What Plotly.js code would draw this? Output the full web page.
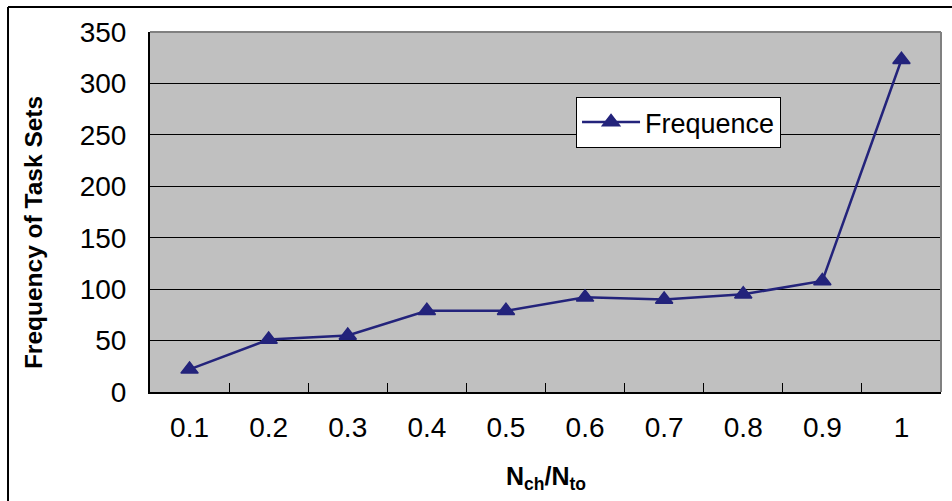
<!DOCTYPE html>
<html>
<head>
<meta charset="utf-8">
<script src="https://cdn.plot.ly/plotly-3.0.1.min.js"></script>
<style>
html,body{margin:0;padding:0;background:#fff;}
#chart{width:952px;height:501px;}
</style>
</head>
<body>
<div id="chart"></div>
<script>
var categories = ["0.1","0.2","0.3","0.4","0.5","0.6","0.7","0.8","0.9","1"];
var frequence = [22, 51, 55, 79, 79, 92, 90, 95, 108, 323];
var yTicks = [0, 50, 100, 150, 200, 250, 300, 350];
var seriesName = "Frequence";
var yTitle = "Frequency of Task Sets";
var xTitle = "<b>N<sub>ch</sub>/N<sub>to</sub></b>";

var font = "Arial, 'Liberation Sans', sans-serif";
var navy = "#23237B";

var trace = {
  x: categories,
  y: frequence,
  type: "scatter",
  mode: "lines+markers",
  name: seriesName,
  line: {color: navy, width: 2.5},
  marker: {symbol: "triangle-up", size: 15, color: navy, line: {color: navy, width: 1.5}}
};

var layout = {
  width: 952, height: 501,
  margin: {l: 150, r: 11, t: 32, b: 109, pad: 0},
  paper_bgcolor: "#ffffff",
  plot_bgcolor: "#C0C0C0",
  font: {family: font, color: "#000", size: 24},
  showlegend: true,
  legend: {
    x: 0.5386, y: 0.8194, xanchor: "left", yanchor: "top",
    bgcolor: "#ffffff", bordercolor: "#000", borderwidth: 1,
    font: {family: font, size: 27, color: "#000"},
    itemwidth: 58
  },
  xaxis: {
    type: "category",
    range: [-0.5, 9.5],
    tickson: "boundaries",
    ticks: "inside", ticklen: 9, tickwidth: 1, tickcolor: "#000",
    showline: true, linecolor: "#000", linewidth: 2,
    showgrid: false, zeroline: false,
    tickfont: {family: font, size: 28, color: "#000"},
    ticklabelstandoff: 9,
    fixedrange: true
  },
  yaxis: {
    range: [0, 350],
    tickvals: yTicks,
    ticktext: yTicks.map(String),
    ticks: "", showline: true, linecolor: "#000", linewidth: 2,
    showgrid: true, gridcolor: "#000", gridwidth: 1,
    zeroline: false,
    tickfont: {family: font, size: 28, color: "#000"},
    ticklabelstandoff: 16,
    fixedrange: true
  },
  shapes: [
    {type: "line", xref: "paper", yref: "paper", x0: 0, x1: 1, y0: 1, y1: 1, line: {color: "#808080", width: 2}},
    {type: "line", xref: "paper", yref: "paper", x0: 1, x1: 1, y0: 0, y1: 1, line: {color: "#808080", width: 2}},
    {type: "line", xref: "paper", yref: "paper", x0: -0.1795, x1: -0.1795, y0: 1.0694, y1: -0.32, line: {color: "#000", width: 2}},
    {type: "line", xref: "paper", yref: "paper", x0: -0.1795, x1: 1.02, y0: 1.0694, y1: 1.0694, line: {color: "#000", width: 2}}
  ],
  annotations: [
    {text: "<b>" + yTitle + "</b>", xref: "paper", yref: "paper", x: -0.148, y: 0.444,
     xanchor: "center", yanchor: "middle",
     textangle: -90, showarrow: false, font: {family: font, size: 24.5, color: "#000"}},
    {text: xTitle, xref: "paper", yref: "paper", x: 0.5, y: -0.239,
     xanchor: "center", yanchor: "middle",
     showarrow: false, font: {family: font, size: 25, color: "#000"}}
  ]
};

Plotly.newPlot("chart", [trace], layout, {displayModeBar: false, staticPlot: true});
</script>
</body>
</html>
